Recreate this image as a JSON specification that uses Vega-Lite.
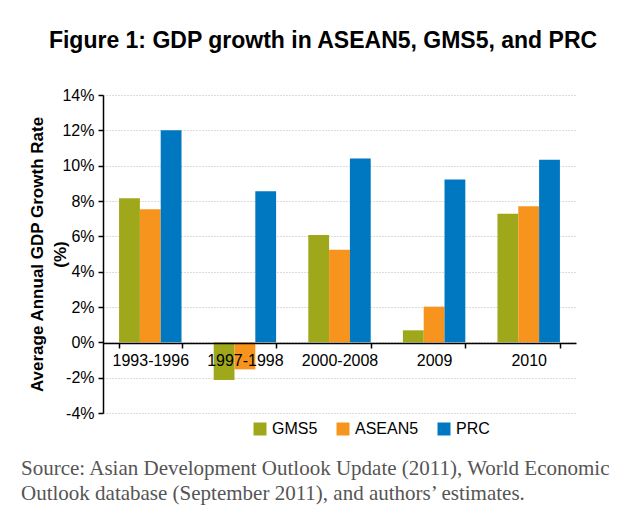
{
  "$schema": "https://vega.github.io/schema/vega-lite/v6.json",
  "padding": {"left": 20, "top": 30, "right": 5, "bottom": 5},
  "background": "white",
  "title": {
    "text": "Figure 1: GDP growth in ASEAN5, GMS5, and PRC",
    "font": "Liberation Sans",
    "fontSize": 23,
    "fontWeight": "bold",
    "color": "#000000",
    "anchor": "middle",
    "dx": 7,
    "offset": 34
  },
  "data": {
    "values": [
      {"period": "1993-1996", "series": "GMS5", "value": 0.0815},
      {"period": "1993-1996", "series": "ASEAN5", "value": 0.0753},
      {"period": "1993-1996", "series": "PRC", "value": 0.1200},
      {"period": "1997-1998", "series": "GMS5", "value": -0.0213},
      {"period": "1997-1998", "series": "ASEAN5", "value": -0.0153},
      {"period": "1997-1998", "series": "PRC", "value": 0.0855},
      {"period": "2000-2008", "series": "GMS5", "value": 0.0607},
      {"period": "2000-2008", "series": "ASEAN5", "value": 0.0524},
      {"period": "2000-2008", "series": "PRC", "value": 0.1040},
      {"period": "2009", "series": "GMS5", "value": 0.0068},
      {"period": "2009", "series": "ASEAN5", "value": 0.0202},
      {"period": "2009", "series": "PRC", "value": 0.0922},
      {"period": "2010", "series": "GMS5", "value": 0.0728},
      {"period": "2010", "series": "ASEAN5", "value": 0.0770},
      {"period": "2010", "series": "PRC", "value": 0.1034}
    ]
  },
  "vconcat": [
    {
      "width": 473,
      "height": 318,
      "title": {
        "text": ["Source: Asian Development Outlook Update (2011), World Economic", "Outlook database (September 2011), and authors’ estimates."],
        "orient": "bottom",
        "anchor": "start",
        "frame": "bounds",
        "font": "Liberation Serif",
        "fontSize": 21,
        "fontWeight": "normal",
        "color": "#555555",
        "lineHeight": 25,
        "dx": -8,
        "offset": 37
      },
      "mark": {"type": "bar"},
      "encoding": {
        "x": {
          "field": "period",
          "type": "nominal",
          "sort": null,
          "scale": {"paddingInner": 0.34, "paddingOuter": 0.17},
          "axis": {
            "title": null,
            "labelAngle": 0,
            "offset": -70,
            "zindex": 1,
            "domainColor": "#000000",
            "domainWidth": 1.5,
            "tickColor": "#000000",
            "tickWidth": 1.5,
            "tickSize": 5,
            "tickBand": "extent",
            "labelFont": "Liberation Sans",
            "labelFontSize": 16,
            "labelColor": "#000000",
            "labelPadding": 4,
            "grid": false
          }
        },
        "xOffset": {
          "field": "series",
          "type": "nominal",
          "sort": ["GMS5", "ASEAN5", "PRC"],
          "scale": {"paddingInner": 0, "paddingOuter": 0}
        },
        "y": {
          "field": "value",
          "type": "quantitative",
          "scale": {"domain": [-0.04, 0.14], "nice": false, "zero": false},
          "axis": {
            "title": ["Average Annual GDP Growth Rate", "(%)"],
            "titleFont": "Liberation Sans",
            "titleFontSize": 17,
            "titleFontWeight": "bold",
            "titleColor": "#000000",
            "titleLineHeight": 23,
            "titlePadding": -8,
            "values": [-0.04, -0.02, 0, 0.02, 0.04, 0.06, 0.08, 0.1, 0.12, 0.14],
            "labelExpr": "(datum.value < 0 ? '-' : '') + format(abs(datum.value), '.0%')",
            "labelFont": "Liberation Sans",
            "labelFontSize": 16,
            "labelColor": "#000000",
            "labelPadding": 4,
            "domainColor": "#000000",
            "domainWidth": 1.5,
            "tickColor": "#000000",
            "tickWidth": 1.5,
            "tickSize": 5,
            "grid": true,
            "gridColor": "#bbbbbb",
            "gridDash": [1, 2],
            "gridWidth": 1,
            "zindex": 0
          }
        },
        "color": {
          "field": "series",
          "type": "nominal",
          "sort": ["GMS5", "ASEAN5", "PRC"],
          "scale": {"domain": ["GMS5", "ASEAN5", "PRC"], "range": ["#9FA71B", "#F7941E", "#0077C1"]},
          "legend": {
            "title": null,
            "orient": "none",
            "legendX": 149,
            "legendY": 326,
            "direction": "horizontal",
            "symbolType": "square",
            "symbolSize": 169,
            "symbolStrokeWidth": 0,
            "labelFont": "Liberation Sans",
            "labelFontSize": 16,
            "labelColor": "#000000",
            "labelOffset": 4,
            "columnPadding": 17
          }
        }
      }
    }
  ],
  "config": {
    "view": {"stroke": null},
    "concat": {"spacing": 0}
  }
}
